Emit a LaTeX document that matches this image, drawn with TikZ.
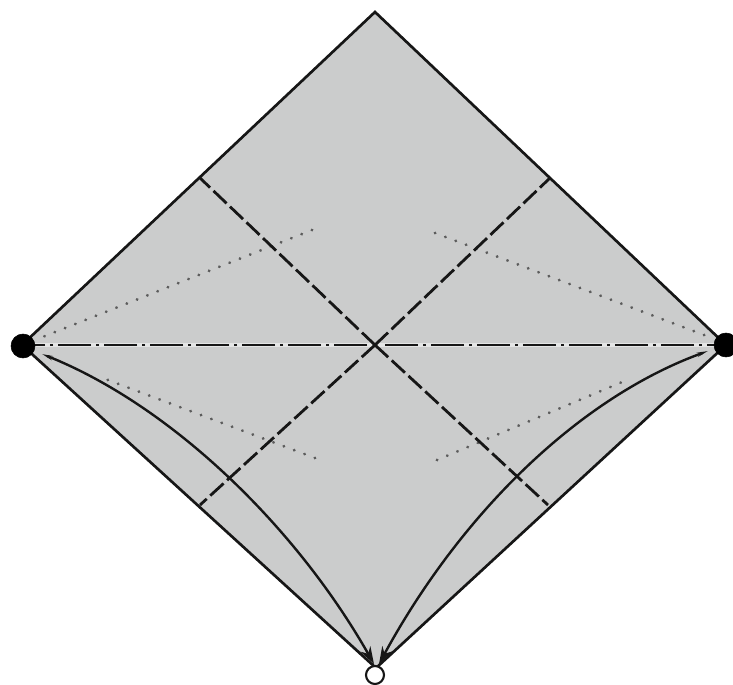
\documentclass[tikz,border=0pt]{standalone}
\usetikzlibrary{arrows.meta}
\definecolor{paper}{RGB}{203,204,204}
\definecolor{halo}{RGB}{228,229,229}
\definecolor{ink}{RGB}{22,22,22}
\tikzset{
  x=0.75pt,y=-0.75pt,
  sheet/.style={fill=paper,draw=ink,line width=2pt,line join=miter},
  valley/.style={draw=ink,line width=2.1pt,dash pattern=on 13.5pt off 3.6pt},
  ridge/.style={draw=ink,line width=1.9pt,dash pattern=on 25pt off 3.5pt on 2.5pt off 3.5pt},
  haloline/.style={draw=halo,line width=3.6pt},
  dots/.style={draw=ink!70,line width=2.3pt,line cap=round,dash pattern=on 0.1pt off 8.2pt},
  move/.style={draw=ink,line width=1.8pt,{Stealth[length=8pt,width=3pt]}-{Stealth[length=13pt,width=8.5pt]}},
  blackdot/.style={circle,fill=black,draw=black,inner sep=0pt,minimum size=18pt},
  whitedot/.style={circle,fill=white,draw=ink,line width=1.6pt,inner sep=0pt,minimum size=13.5pt}
}
\begin{document}
\begin{tikzpicture}
\useasboundingbox (0,0) rectangle (733,685);
\fill[white] (0,0) rectangle (733,685);
\coordinate (T) at (375,12);
\coordinate (L) at (22,345);
\coordinate (R) at (726,345);
\coordinate (B) at (376,668);
\coordinate (C) at (375,345);
\coordinate (a) at (200,178);
\coordinate (b) at (548,505);
\coordinate (c) at (550,178);
\coordinate (d) at (200,505);
\coordinate (L1) at (42,354);
\coordinate (R1) at (708,351);
\coordinate (B1) at (374,664);
\coordinate (B2) at (379,664);
\coordinate (e1) at (312,230);
\coordinate (e2) at (315,458);
\coordinate (e3) at (435,233);
\coordinate (e4) at (437,460);
\coordinate (s1) at (35,340);
\coordinate (s2) at (100,377);
\coordinate (s3) at (712,338);
\coordinate (s4) at (627,380);
\coordinate (h1) at (32,345);
\coordinate (h2) at (716,345);
\draw[sheet] (T) -- (R) -- (B) -- (L) -- cycle;
\draw[dots] (e1) -- (s1);
\draw[dots] (e2) -- (s2);
\draw[dots] (e3) -- (s3);
\draw[dots] (e4) -- (s4);
\draw[haloline] (h1) -- (h2);
\draw[ridge] (C) ++(-8,0) -- (h1);
\draw[ridge] (C) ++(10,0) -- (h2);
\draw[valley] (C) -- (a);
\draw[valley] (C) -- (b);
\draw[valley] (C) -- (c);
\draw[valley] (C) -- (d);
\draw[move] (L1) .. controls (170,405) and (295,525) .. (B1);
\draw[move] (R1) .. controls (578,398) and (460,515) .. (B2);
\node[blackdot] (nl) at (23,346) {};
\node[blackdot] (nr) at (726,345) {};
\node[whitedot] (nb) at (375,675) {};
\end{tikzpicture}
\end{document}
